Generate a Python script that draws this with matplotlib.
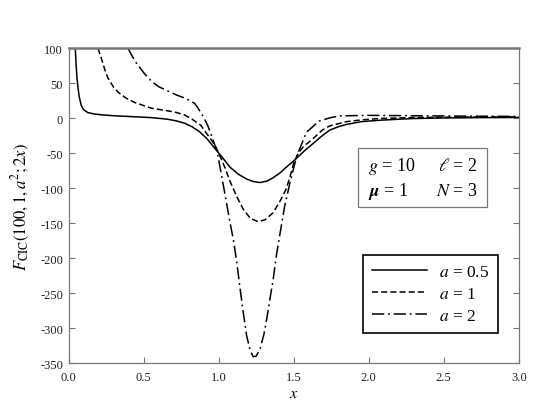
import numpy as np
import matplotlib
matplotlib.use('Agg')
import matplotlib.pyplot as plt

plt.rcParams['font.family'] = ['Liberation Serif', 'DejaVu Serif']
plt.rcParams['mathtext.fontset'] = 'stix'
plt.rcParams['axes.unicode_minus'] = False

########## Data ##################################
x_a05 = [0.044, 0.05, 0.056, 0.062, 0.07, 0.084, 0.1, 0.128, 0.17, 0.22, 0.3, 0.44, 0.55, 0.66,
         0.72, 0.77, 0.82, 0.87, 0.92, 0.97, 1.02, 1.075, 1.13, 1.186, 1.23, 1.275, 1.32, 1.363,
         1.41, 1.45, 1.495, 1.52, 1.58, 1.63, 1.69, 1.74, 1.8, 1.85, 1.95, 2.07, 2.2, 2.3, 2.5,
         2.75, 3.0]
y_a05 = [100, 75, 56, 44, 31, 18, 12, 8, 6, 4.8, 3.5, 2, 0.8, -1.5,
         -4, -7, -12, -19, -29, -42, -55, -70, -80, -87, -90.5, -92, -90, -85,
         -78, -70, -62, -57, -45, -36, -25, -17, -12, -9, -5, -3, -1.5, -0.5, 0.3,
         0.8, 1]

x_a1 = [0.195, 0.217, 0.24, 0.26, 0.3, 0.33, 0.38, 0.44, 0.5, 0.55, 0.6, 0.66, 0.72, 0.77,
        0.82, 0.853, 0.88, 0.92, 0.97, 1.0, 1.04, 1.075, 1.12, 1.163, 1.21, 1.263, 1.31, 1.363,
        1.41, 1.45, 1.48, 1.5, 1.53, 1.563, 1.63, 1.69, 1.74, 1.85, 1.95, 2.07, 2.3, 2.6, 3.0]
y_a1 = [100, 86, 70, 58, 44, 37, 29, 22.4, 18, 14.3, 12.5, 10.5, 8, 4.8,
        -1, -6, -10, -22, -37, -50, -70, -90, -112, -130, -143, -148, -145, -135,
        -118, -101, -80, -64, -50, -41, -29, -17, -11, -5, -2.5, -0.5, 1, 1.5, 2]

x_a2 = [0.395, 0.42, 0.44, 0.5, 0.55, 0.6, 0.66, 0.72, 0.77, 0.81, 0.84, 0.86, 0.88, 0.9,
        0.93, 0.96, 0.99, 1.03, 1.076, 1.097, 1.12, 1.14, 1.165, 1.186, 1.21, 1.23, 1.25,
        1.275, 1.3, 1.32, 1.34, 1.363, 1.385, 1.41, 1.44, 1.475, 1.52, 1.585, 1.67, 1.75,
        1.81, 2.0, 2.3, 2.6, 3.0]
y_a2 = [100, 90, 82, 65, 53, 45, 39, 33, 29, 25, 21, 15, 8, 1,
        -12, -30, -48, -95, -150, -173, -205, -240, -280, -311, -332, -341, -340,
        -330, -310, -287, -260, -230, -195, -163, -125, -92, -54, -20, -4, 1,
        3.3, 4, 3.5, 3, 2.5]

labels = ['$a$ = 0.5', '$a$ = 1', '$a$ = 2']
xticks = np.arange(0, 3.01, 0.5)
yticks = np.arange(-350, 101, 50)

########## Plot ##################################
fig = plt.figure(figsize=(5.45, 4.10), dpi=100)
ax = fig.add_axes([0.126, 0.112, 0.826, 0.768])

ax.plot(x_a05, y_a05, color='k', lw=1.1, label=labels[0])
ax.plot(x_a1, y_a1, color='k', lw=1.1, ls=(0, (4, 2)), label=labels[1])
ax.plot(x_a2, y_a2, color='k', lw=1.1, ls=(0, (8, 2.5, 1.2, 2.5)), label=labels[2])

ax.set_xlim(0, 3.0)
ax.set_ylim(-350, 100)
ax.set_xticks(xticks)
ax.set_yticks(yticks)
ax.set_xticklabels(['%.1f' % t for t in xticks])
ax.set_yticklabels(['%d' % t for t in yticks])
ax.tick_params(axis='both', direction='in', length=4, width=0.8, color='#777777',
               labelsize=9, labelcolor='#222222')
ax.tick_params(axis='x', pad=6)
ax.tick_params(axis='y', right=True, pad=4)
for s in ['left', 'right', 'bottom']:
    ax.spines[s].set_color('#777777')
    ax.spines[s].set_linewidth(0.9)
ax.spines['top'].set_color('#777777')
ax.spines['top'].set_linewidth(1.8)

ax.set_xlabel('$x$', fontsize=11.5, labelpad=1)
ax.set_ylabel(r'$F_{\mathrm{CIC}}(100,1,a^2;2x)$', fontsize=12, labelpad=6)

leg = ax.legend(loc='upper left', bbox_to_anchor=(363 / 545, 1 - 256 / 410),
                bbox_transform=fig.transFigure, fontsize=12.5, frameon=True, fancybox=False,
                handlelength=3.2, handletextpad=0.7, labelspacing=0.35, borderpad=0.5,
                borderaxespad=0)
leg.get_frame().set_edgecolor('k')
leg.get_frame().set_linewidth(1.2)
leg.get_frame().set_alpha(1)

fig.text(368 / 545, 1 - 167 / 410, r'$g$ = 10', fontsize=13, va='center')
fig.text(478 / 545, 1 - 167 / 410, r'$\ell$ = 2', fontsize=13, va='center', ha='right')
fig.text(368 / 545, 1 - 192 / 410, r'$\boldsymbol{\mu}$ = 1', fontsize=13, va='center')
fig.text(478 / 545, 1 - 192 / 410, r'$N$ = 3', fontsize=13, va='center', ha='right')
box = plt.Rectangle((358 / 545, 1 - 208 / 410), 129 / 545, 59 / 410, transform=fig.transFigure,
                    fill=False, edgecolor='#777777', lw=0.9)
fig.patches.append(box)

plt.savefig('out.png', dpi=100)
